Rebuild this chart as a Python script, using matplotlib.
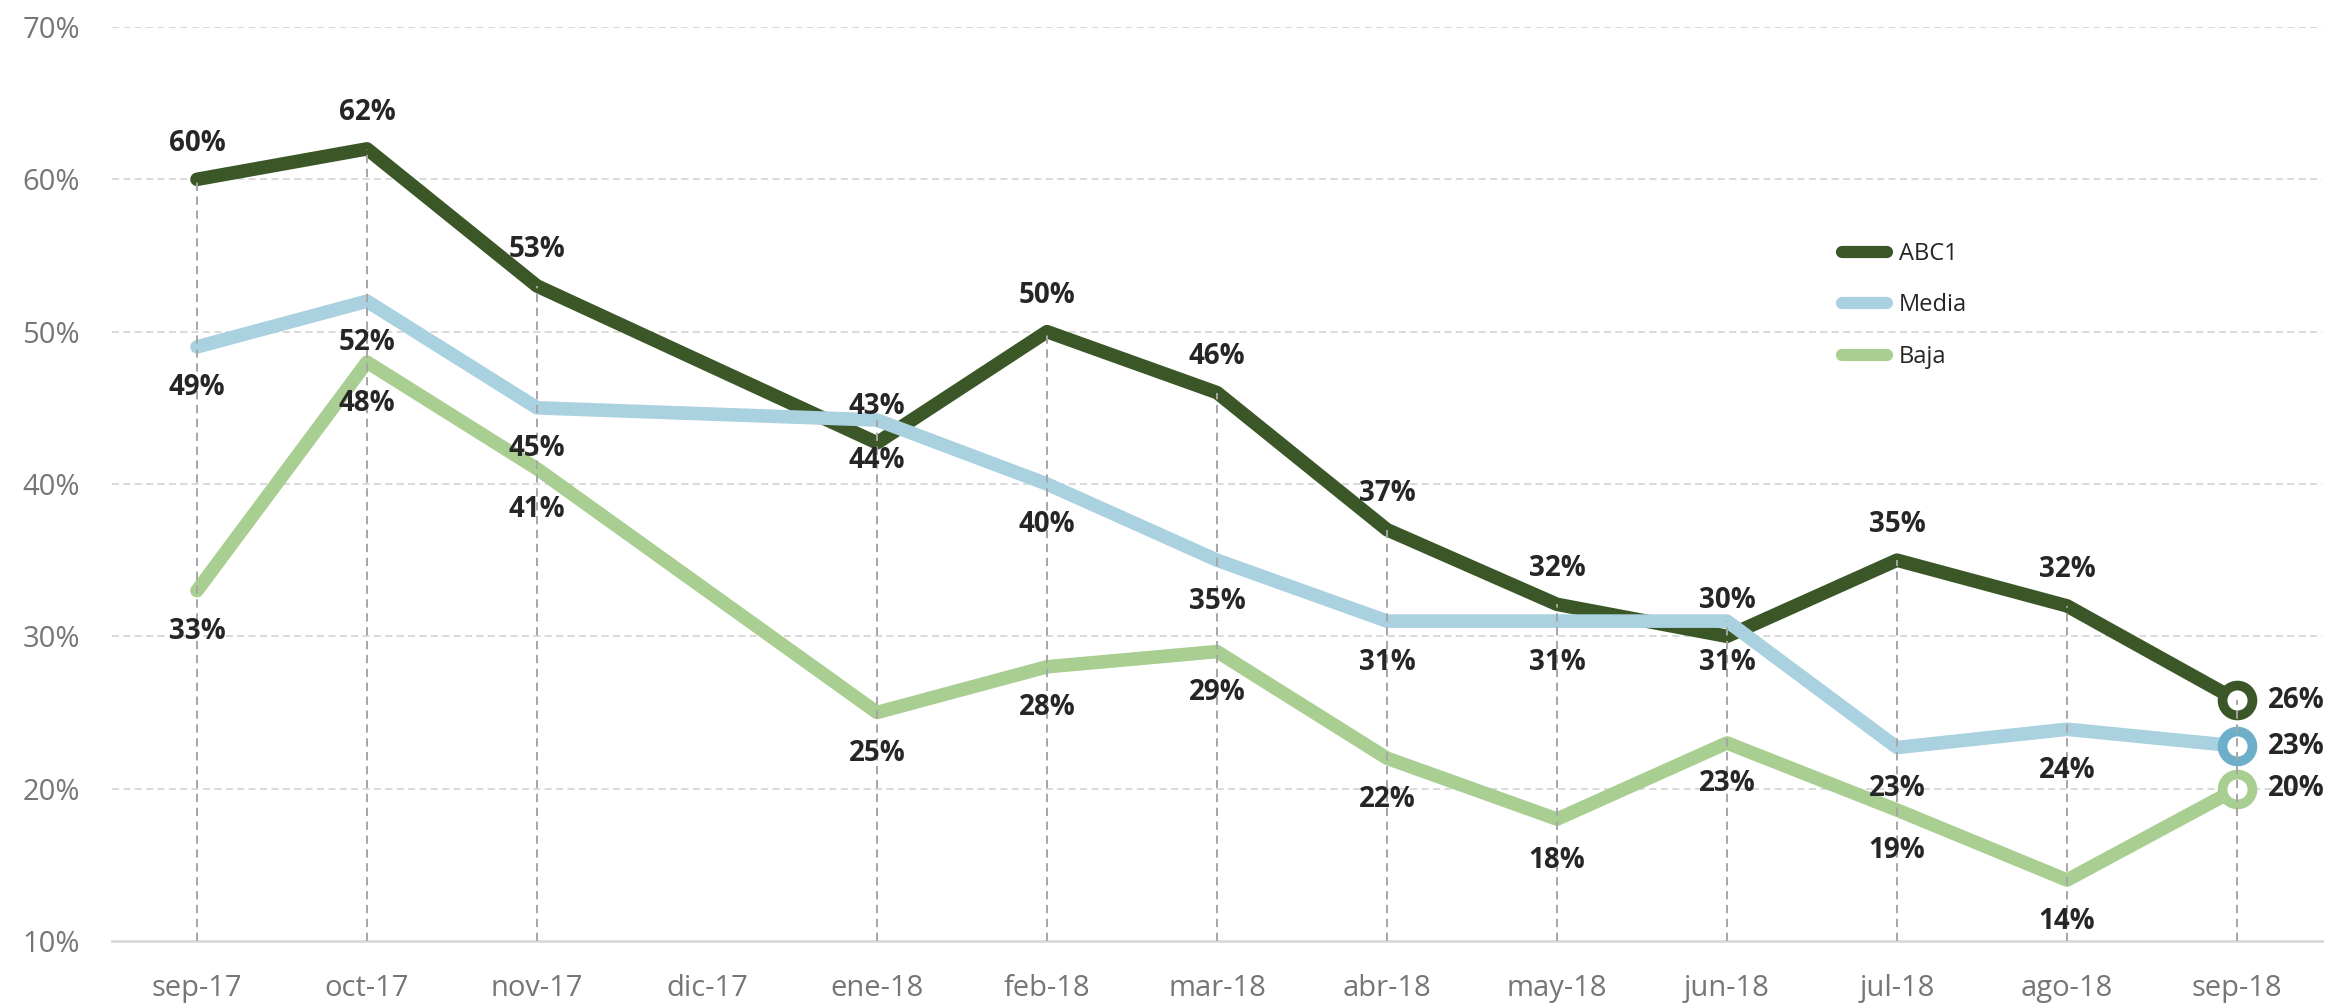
import numpy as np
import matplotlib
matplotlib.use("Agg")
import matplotlib.pyplot as plt
from matplotlib.lines import Line2D

plt.rcParams['font.family'] = ['Open Sans', 'DejaVu Sans']
plt.rcParams['lines.scale_dashes'] = False

categories = ['sep-17', 'oct-17', 'nov-17', 'dic-17', 'ene-18', 'feb-18', 'mar-18',
              'abr-18', 'may-18', 'jun-18', 'jul-18', 'ago-18', 'sep-18']
abc1 = [60, 62, 53, None, 42.7, 50, 46, 37, 32.1, 30, 35, 32, 25.8]
media = [49, 52, 45, None, 44.2, 40, 35, 31, 31, 31, 22.7, 23.9, 22.8]
baja = [33, 48, 41, None, 25, 28, 29, 22, 18, 23, 18.6, 14, 20]
series_names = ['ABC1', 'Media', 'Baja']
yticks = [10, 20, 30, 40, 50, 60, 70]

colors = {'ABC1': '#3B5728', 'Media': '#A9D1DF', 'Baja': '#A9CE91'}
marker_edges = {'ABC1': '#3B5728', 'Media': '#6DAFC9', 'Baja': '#A9CE91'}
label_pos = {'ABC1': 'above', 'Media': 'below', 'Baja': 'below'}

W, H = 2341, 1008
fig = plt.figure(figsize=(W / 100, H / 100), dpi=100)
ax = fig.add_axes([112 / W, (H - 941) / H, 2210 / W, 914 / H])

x = np.arange(len(categories))
data = {'ABC1': abc1, 'Media': media, 'Baja': baja}

ax.set_xlim(-0.5, len(categories) - 0.5)
ax.set_ylim(yticks[0], yticks[-1])
ax.set_xticks(x)
ax.set_xticklabels(categories)
ax.set_yticks(yticks)
ax.set_yticklabels([f'{v}%' for v in yticks])
ax.tick_params(axis='both', length=0, labelsize=21, labelcolor='#767676')
ax.tick_params(axis='x', pad=24)
ax.tick_params(axis='y', pad=23)

for s in ['top', 'right', 'left']:
    ax.spines[s].set_visible(False)
ax.spines['bottom'].set_color('#D9D9D9')
ax.spines['bottom'].set_linewidth(2)
ax.spines['bottom'].set_zorder(1)

for v in yticks[1:]:
    ax.axhline(v, color='#D9D9D9', lw=1.4, ls=(0, (5, 3.2)), zorder=0)

# drop lines from highest point in each category
for i in range(len(categories)):
    vals = [data[n][i] for n in series_names if data[n][i] is not None]
    if vals:
        ax.vlines(x[i], yticks[0], max(vals), colors='#A6A6A6', lw=1.4,
                  linestyles=[(0, (6, 4))], zorder=6)

handles = []
for k, name in enumerate(series_names):
    vals = data[name]
    xs = [x[i] for i in range(len(vals)) if vals[i] is not None]
    ys = [vals[i] for i in range(len(vals)) if vals[i] is not None]
    ax.plot(xs, ys, color=colors[name], lw=9.8, solid_joinstyle='round',
            solid_capstyle='round', zorder=3 + 0.1 * k)
    ax.plot(xs[-1], ys[-1], marker='o', ms=21.5, mew=7, mfc='white',
            mec=marker_edges[name], zorder=5, ls='none')
    for j, (xi, yi) in enumerate(zip(xs, ys)):
        if j == len(xs) - 1:
            off, ha = (22, 0), 'left'
        elif label_pos[name] == 'above':
            off, ha = (0, 26), 'center'
        else:
            off, ha = (0, -29.5), 'center'
        ax.annotate(f'{round(yi)}%', (xi, yi), xytext=off, textcoords='offset points',
                    ha=ha, va='center', fontsize=20, fontweight='bold',
                    color='#262626', zorder=7)
    handles.append(Line2D([], [], color=colors[name], lw=8.8,
                          solid_capstyle='round', label=name))

leg = ax.legend(handles=handles, loc='upper left',
                bbox_to_anchor=(1842 / W, 1 - 242 / H), bbox_transform=fig.transFigure,
                frameon=False, fontsize=17, handlelength=1.9, handletextpad=0.5,
                labelspacing=1.16, borderpad=0, borderaxespad=0)
for t in leg.get_texts():
    t.set_color('#262626')

fig.savefig('out.png', dpi=100, facecolor='white')
